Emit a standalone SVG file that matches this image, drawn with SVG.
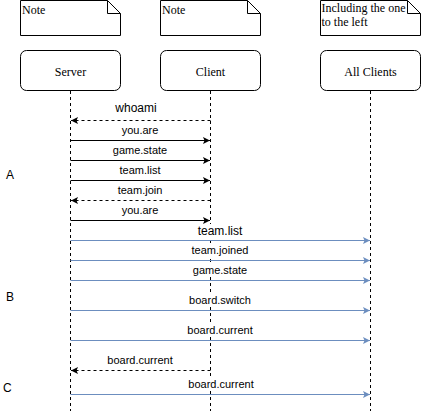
<svg xmlns="http://www.w3.org/2000/svg" width="421" height="411" viewBox="0 0 421 411">
<style>
.note{fill:#fff;stroke:#000;stroke-width:1}
.box{fill:#fff;stroke:#000;stroke-width:1}
.life{stroke:#000;stroke-width:1;stroke-dasharray:3,3;fill:none}
.serif{font-family:"Liberation Serif",serif;fill:#000}
.lbl{font-family:"Liberation Sans",Arial,sans-serif;font-size:11px;fill:#000;text-anchor:middle}
.bg{fill:#fff;stroke:none}
.blk{stroke:#000;stroke-width:1;fill:none;marker-end:url(#ab)}
.dsh{stroke:#000;stroke-width:1;fill:none;stroke-dasharray:3,3;marker-end:url(#ab)}
.blu{stroke:#6c8ebf;stroke-width:1;fill:none;marker-end:url(#au)}
.side{font-family:"Liberation Sans",Arial,sans-serif;font-size:12px;fill:#000}
</style>
<defs>
<marker id="ab" markerWidth="10" markerHeight="10" refX="7" refY="3.5" orient="auto" markerUnits="userSpaceOnUse"><path d="M0,0 L7,3.5 L0,7 L1.5,3.5 Z" fill="#000"/></marker>
<marker id="au" markerWidth="10" markerHeight="10" refX="7" refY="3.5" orient="auto" markerUnits="userSpaceOnUse"><path d="M0,0 L7,3.5 L0,7 L1.5,3.5 Z" fill="#6c8ebf"/></marker>
</defs>
<rect width="421" height="411" fill="#fff"/>
<g id="note1"><path class="note" d="M20.5,0.5 H107.5 L120.5,13.5 V35.5 H20.5 Z M107.5,0.5 V13.5 H120.5"/><text class="serif" x="22" y="14" font-size="12">Note</text></g>
<g id="note2"><path class="note" d="M160.5,0.5 H247.5 L260.5,13.5 V35.5 H160.5 Z M247.5,0.5 V13.5 H260.5"/><text class="serif" x="162" y="14" font-size="12">Note</text></g>
<g id="note3"><path class="note" d="M320.5,0.5 H407.5 L420.5,13.5 V35.5 H320.5 Z M407.5,0.5 V13.5 H420.5"/><text class="serif" x="321.5" y="12" font-size="12">Including the one</text><text class="serif" x="321.5" y="26" font-size="12">to the left</text></g>
<g id="server"><rect class="box" x="20.5" y="50.5" width="100" height="40" rx="6"/><text class="serif" x="70.5" y="76" font-size="12" text-anchor="middle">Server</text></g>
<g id="client"><rect class="box" x="160.5" y="50.5" width="100" height="40" rx="6"/><text class="serif" x="210.5" y="76" font-size="12" text-anchor="middle">Client</text></g>
<g id="allclients"><rect class="box" x="320.5" y="50.5" width="100" height="40" rx="6"/><text class="serif" x="370.5" y="76" font-size="12" text-anchor="middle">All Clients</text></g>
<g id="lifelines">
<line class="life" x1="70.5" y1="91" x2="70.5" y2="411"/>
<line class="life" x1="210.5" y1="91" x2="210.5" y2="411"/>
<line class="life" x1="370.5" y1="91" x2="370.5" y2="411"/>
</g>
<g id="connectors">
<line class="dsh" x1="210.5" y1="120.5" x2="71" y2="120.5"/>
<line class="blk" x1="70.5" y1="140.5" x2="210" y2="140.5"/>
<line class="blk" x1="70.5" y1="160.5" x2="210" y2="160.5"/>
<line class="blk" x1="70.5" y1="180.5" x2="210" y2="180.5"/>
<line class="dsh" x1="210.5" y1="200.5" x2="71" y2="200.5"/>
<line class="blk" x1="70.5" y1="220.5" x2="210" y2="220.5"/>
<line class="blu" x1="70.5" y1="240.5" x2="370" y2="240.5"/>
<line class="blu" x1="70.5" y1="260.5" x2="370" y2="260.5"/>
<line class="blu" x1="70.5" y1="280.5" x2="370" y2="280.5"/>
<line class="blu" x1="70.5" y1="310.5" x2="370" y2="310.5"/>
<line class="blu" x1="70.5" y1="340.5" x2="370" y2="340.5"/>
<line class="dsh" x1="210.5" y1="370.5" x2="71" y2="370.5"/>
<line class="blu" x1="70.5" y1="394.5" x2="370" y2="394.5"/>
</g>
<g id="labels">
<rect class="bg" x="194" y="224" width="52" height="14"/>
<rect class="bg" x="190" y="243" width="60" height="13"/>
<rect class="bg" x="191" y="263" width="58" height="13"/>
<rect class="bg" x="187" y="293" width="66" height="13"/>
<rect class="bg" x="185" y="323" width="70" height="13"/>
<rect class="bg" x="185" y="377" width="70" height="13"/>
<text class="lbl" x="136" y="112" style="font-size:12px">whoami</text>
<text class="lbl" x="140" y="134">you.are</text>
<text class="lbl" x="140" y="154">game.state</text>
<text class="lbl" x="140" y="174">team.list</text>
<text class="lbl" x="140" y="194">team.join</text>
<text class="lbl" x="140" y="214">you.are</text>
<text class="lbl" x="220" y="235" style="font-size:12px">team.list</text>
<text class="lbl" x="220" y="254">team.joined</text>
<text class="lbl" x="220" y="274">game.state</text>
<text class="lbl" x="220" y="304">board.switch</text>
<text class="lbl" x="220" y="334">board.current</text>
<text class="lbl" x="140" y="364">board.current</text>
<text class="lbl" x="221" y="388">board.current</text>
</g>
<text class="side" x="6" y="179">A</text>
<text class="side" x="6" y="301">B</text>
<text class="side" x="3" y="392">C</text>
</svg>
